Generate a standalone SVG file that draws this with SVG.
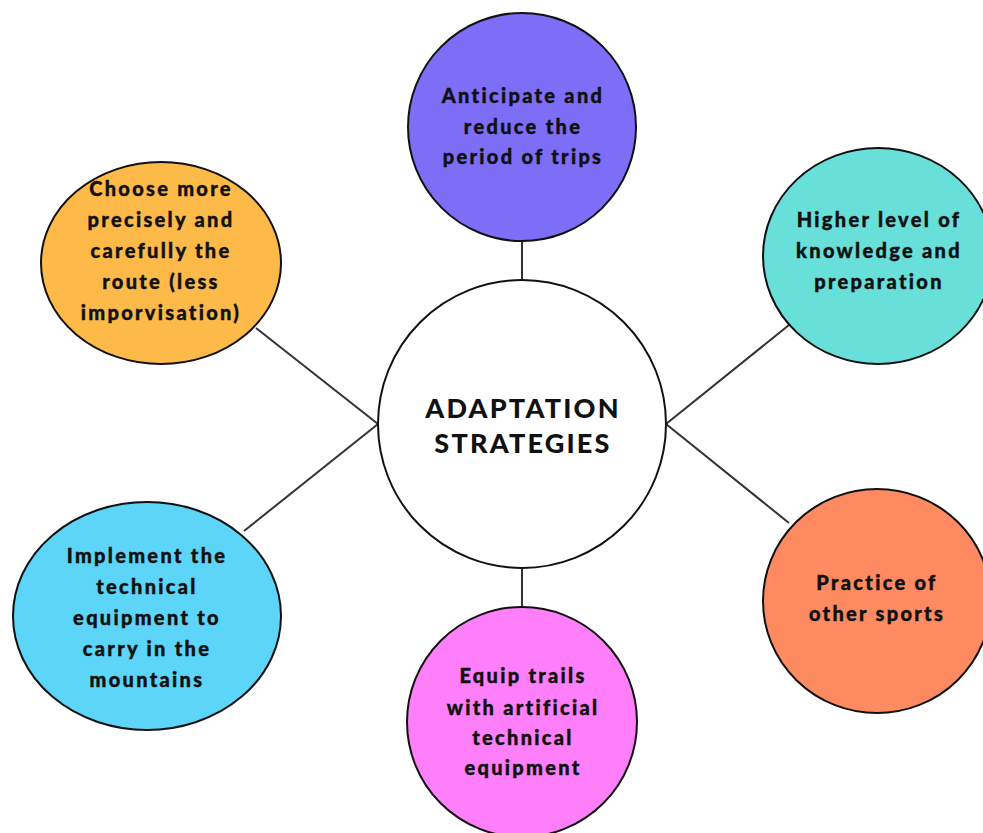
<svg xmlns="http://www.w3.org/2000/svg" width="983" height="833" viewBox="0 0 983 833">
<style>
.node{stroke:#111;stroke-width:2}
.lbl{font-family:"Lato","Liberation Sans",sans-serif;font-weight:900;font-size:20px;letter-spacing:2.3px;fill:#111;text-anchor:middle;stroke:#111;stroke-width:0.4px}
.ctr{font-family:"Lato","Liberation Sans",sans-serif;font-weight:900;font-size:27px;letter-spacing:2.2px;fill:#111;text-anchor:middle}
.conn{stroke:#333;stroke-width:2;fill:none}
</style>
<rect width="983" height="833" fill="#fff"/>
<g id="connectors">
<line class="conn" x1="522" y1="240" x2="522" y2="281"/>
<line class="conn" x1="522" y1="568" x2="522" y2="607"/>
<line class="conn" x1="256" y1="328" x2="378" y2="424"/>
<line class="conn" x1="244" y1="531" x2="378" y2="424"/>
<line class="conn" x1="789" y1="325" x2="666" y2="424"/>
<line class="conn" x1="789" y1="523" x2="666" y2="424"/>
</g>
<g id="center">
<circle class="node" cx="522" cy="424" r="144" fill="#fff"/>
<text class="ctr" x="523" y="418">ADAPTATION</text>
<text class="ctr" x="523" y="453">STRATEGIES</text>
</g>
<g id="n-top">
<circle class="node" cx="522" cy="127" r="114" fill="#7D6DF7"/>
<text class="lbl" x="523" y="103">Anticipate and</text>
<text class="lbl" x="523" y="134">reduce the</text>
<text class="lbl" x="523" y="164">period of trips</text>
</g>
<g id="n-orange">
<ellipse class="node" cx="161" cy="263" rx="120" ry="101" fill="#FDBA48"/>
<text class="lbl" x="161" y="196">Choose more</text>
<text class="lbl" x="161" y="227">precisely and</text>
<text class="lbl" x="161" y="258">carefully the</text>
<text class="lbl" x="161" y="289">route (less</text>
<text class="lbl" x="161" y="320">imporvisation)</text>
</g>
<g id="n-teal">
<ellipse class="node" cx="878" cy="256" rx="115" ry="108" fill="#68DFD9"/>
<text class="lbl" x="879" y="227">Higher level of</text>
<text class="lbl" x="879" y="258">knowledge and</text>
<text class="lbl" x="879" y="289">preparation</text>
</g>
<g id="n-blue">
<ellipse class="node" cx="147" cy="616" rx="134" ry="114" fill="#5CD5F8"/>
<text class="lbl" x="147" y="563">Implement the</text>
<text class="lbl" x="147" y="594">technical</text>
<text class="lbl" x="147" y="625">equipment to</text>
<text class="lbl" x="147" y="656">carry in the</text>
<text class="lbl" x="147" y="687">mountains</text>
</g>
<g id="n-pink">
<circle class="node" cx="522" cy="722" r="115" fill="#FE7FF9"/>
<text class="lbl" x="523" y="683">Equip trails</text>
<text class="lbl" x="523" y="715">with artificial</text>
<text class="lbl" x="523" y="745">technical</text>
<text class="lbl" x="523" y="775">equipment</text>
</g>
<g id="n-salmon">
<ellipse class="node" cx="877" cy="601" rx="114" ry="112" fill="#FE8A62"/>
<text class="lbl" x="877" y="590">Practice of</text>
<text class="lbl" x="877" y="621">other sports</text>
</g>
</svg>
